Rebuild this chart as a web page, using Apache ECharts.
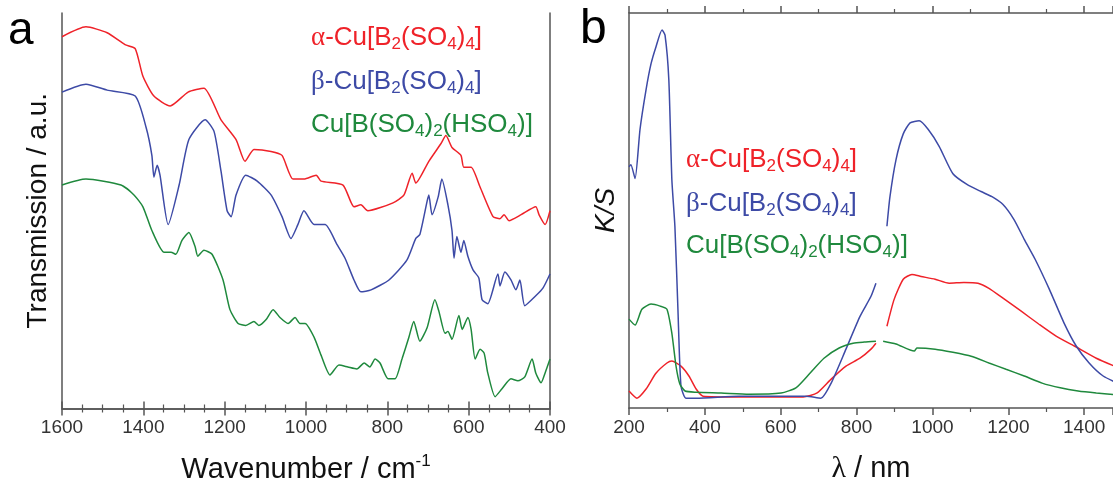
<!DOCTYPE html>
<html>
<head>
<meta charset="utf-8">
<title>IR and UV-vis spectra</title>
<script src="https://cdn.jsdelivr.net/npm/echarts@6/dist/echarts.min.js"></script>
<style>
  html, body { margin: 0; padding: 0; background: #fff; }
  #chart { width: 1113px; height: 489px; }
</style>
</head>
<body>
<div id="chart"></div>
<script>
// panel a: IR transmission (arbitrary units 0-100) vs wavenumber / cm-1
var irAlpha = [
  [1600, 94], [1541, 96.5], [1489, 95], [1445, 92], [1420, 91], [1401, 84], [1374, 79], [1334, 76.5],
  [1290, 80], [1251, 81], [1209, 73], [1172, 68], [1150, 62.5], [1128, 65.5], [1086, 65], [1059, 64],
  [1032, 58], [1005, 58], [975, 59], [963, 57.5], [909, 56.5], [882, 51], [865, 51.5], [848, 50],
  [786, 52], [759, 54], [739, 59.5], [730, 57], [698, 62.5], [668, 67], [656, 69], [641, 66],
  [619, 64], [612, 61], [594, 61], [572, 56], [540, 48.5], [523, 48], [513, 49], [501, 47.5],
  [471, 49], [435, 51], [427, 49], [412, 46.5], [400, 50]
];
var irBeta = [
  [1600, 80], [1541, 82], [1489, 80.5], [1420, 79], [1393, 71], [1379, 64], [1374, 58.5], [1366, 61.5],
  [1359, 59], [1339, 46.5], [1312, 56.5], [1288, 68], [1248, 73], [1226, 70], [1209, 60], [1194, 50],
  [1184, 48.5], [1172, 54], [1148, 59], [1120, 57.5], [1086, 54], [1059, 48.5], [1037, 43], [1020, 46.5],
  [1005, 50], [980, 46.5], [953, 46.5], [924, 41.5], [904, 38], [882, 32.5], [865, 29.5], [840, 30],
  [796, 32.5], [752, 37.5], [730, 43], [720, 44], [702, 52.5], [698, 54], [690, 49], [675, 53.5],
  [666, 58], [651, 51.5], [641, 45], [636, 38], [629, 43.5], [619, 39.5], [612, 42.5], [602, 38.5],
  [589, 35], [575, 33], [567, 27.5], [553, 26.5], [528, 34], [523, 31], [511, 34.5], [496, 32.5],
  [484, 30], [474, 32.5], [462, 26], [435, 28.5], [417, 30.5], [400, 34]
];
var irHydrogen = [
  [1600, 56.5], [1541, 58], [1455, 56.5], [1423, 54], [1401, 51], [1379, 45], [1349, 39.5], [1332, 39.5],
  [1320, 39], [1305, 42.5], [1288, 44.5], [1273, 41], [1266, 38.5], [1251, 40], [1231, 39], [1204, 32.5],
  [1187, 25], [1167, 21.5], [1148, 21], [1128, 22], [1116, 21], [1098, 22.5], [1081, 25], [1064, 23],
  [1044, 21.5], [1027, 23], [1015, 21.5], [1002, 21.5], [980, 18], [963, 13.5], [941, 8.5], [919, 11],
  [897, 10.5], [875, 10], [857, 11.5], [843, 10.5], [830, 12.5], [818, 11.5], [798, 7.5], [781, 7.5],
  [764, 12.5], [747, 18], [735, 22], [720, 17], [702, 20.5], [683, 27.5], [673, 24.5], [658, 19],
  [651, 19.5], [641, 17.5], [624, 23.5], [616, 20], [602, 23], [594, 20], [584, 12.5], [572, 15],
  [562, 14], [553, 9], [535, 3], [518, 5], [496, 7.5], [479, 7], [462, 8], [444, 12.5],
  [435, 9], [422, 6.5], [412, 9], [400, 12.5]
];

// panel b: K/S (arbitrary units 0-100) vs wavelength / nm, '-' marks a break in the trace
var uvAlpha = [
  [200, 4.3], [221, 2.5], [245, 4.8], [271, 8.8], [300, 11.4], [313, 11.9], [337, 10.6], [358, 8.1],
  [377, 4.8], [395, 3], [490, 2.8], [582, 2.8], [659, 2.8], [696, 3.8], [733, 7.3], [772, 10.6],
  [809, 12.6], [838, 14.9], [851, 16.4], [865, '-'], [880, 20.7], [899, 27.5], [923, 32.6], [946, 33.8],
  [970, 33.3], [1007, 32.6], [1044, 31.6], [1083, 31.8], [1120, 31.6], [1149, 30.3], [1186, 27.8],
  [1234, 24.5], [1281, 21.2], [1326, 18.2], [1374, 15.7], [1432, 12.6], [1492, 10.1]
];
var uvBeta = [
  [200, 61.1], [205, 61.6], [216, 58.1], [229, 70.5], [245, 80.6], [258, 87.1], [271, 91.4], [287, 95.7],
  [295, 94.4], [305, 83.1], [313, 57.8], [321, 46], [329, 25], [337, 5.6], [350, 2.5], [377, 2.5],
  [490, 3], [582, 3], [667, 3], [706, 2.5], [733, 6.3], [772, 14.9], [809, 23.2], [838, 28.3],
  [851, 31.6], [865, '-'], [880, 46], [888, 53.5], [904, 62.9], [923, 69.4], [941, 72.2], [965, 72.7],
  [989, 70.5], [1018, 66.2], [1054, 59.3], [1091, 56.6], [1128, 54.8], [1157, 53.5], [1186, 51.5],
  [1215, 47.7], [1242, 42.7], [1271, 37.6], [1308, 30.1], [1347, 21.5], [1379, 15.7], [1413, 11.4],
  [1450, 8.1], [1492, 6.1]
];
var uvHydrogen = [
  [200, 22.5], [216, 21], [234, 25], [258, 26.3], [282, 25.8], [300, 25], [313, 18.9], [324, 10.6],
  [334, 6.1], [348, 4.3], [377, 4], [443, 3.8], [516, 3.5], [601, 3.8], [640, 5.1], [677, 8.8],
  [714, 12.6], [754, 15.2], [791, 16.4], [820, 16.7], [851, 16.9], [860, '-'], [870, 16.9], [904, 16.2],
  [952, 14.4], [959, 15.2], [1007, 14.9], [1054, 14.1], [1102, 13.1], [1149, 11.4], [1194, 9.8],
  [1242, 8.1], [1289, 6.3], [1337, 5.1], [1384, 4.3], [1432, 3.8], [1492, 3.3]
];

var compoundLabels = [
  '{g|α}{n|-Cu[B}{s|2}{n|(SO}{s|4}{n|)}{s|4}{n|]}',
  '{g|β}{n|-Cu[B}{s|2}{n|(SO}{s|4}{n|)}{s|4}{n|]}',
  '{n|Cu[B(SO}{s|4}{n|)}{s|2}{n|(HSO}{s|4}{n|)]}'
];
var colors = ['#ef2229', '#3d4aa6', '#1f893d'];

var FONT = 'Liberation Sans, Arial, sans-serif';
var AXIS_COLOR = '#555';

var formulaRich = {
  n: { fontSize: 26, lineHeight: 30, fontFamily: FONT },
  g: { fontSize: 27, lineHeight: 30, fontFamily: 'Liberation Serif, serif' },
  s: { fontSize: 17, lineHeight: 17, verticalAlign: 'bottom', fontFamily: FONT }
};

function legendText(i, left, top) {
  return {
    type: 'text',
    left: left,
    top: top,
    style: { text: compoundLabels[i], rich: formulaRich, fill: colors[i] }
  };
}

// wavenumber axis runs right-to-left: plot it on negated values and print them back positive
function flip(data) {
  return data.map(function (p) { return [-p[0], p[1]]; });
}
function plainNumber(v) {
  return String(Math.abs(v));
}

function bottomAxis(grid, min, max, split, name) {
  return {
    type: 'value', gridIndex: grid, position: 'bottom',
    min: min, max: max, interval: 200,
    axisLine: { lineStyle: { color: AXIS_COLOR, width: 1.5 } },
    axisTick: { show: true, inside: false, length: 7, lineStyle: { color: AXIS_COLOR, width: 1.5 } },
    minorTick: { show: true, splitNumber: split, length: 4, lineStyle: { color: AXIS_COLOR, width: 1.2 } },
    splitLine: { show: false },
    axisLabel: {
      fontSize: 19, color: '#333', fontFamily: FONT, margin: 10,
      showMaxLabel: grid === 0, formatter: plainNumber
    },
    name: name, nameLocation: 'middle', nameGap: 44,
    nameTextStyle: {
      color: '#111',
      rich: {
        n: { fontSize: 29, lineHeight: 34, fontFamily: FONT, color: '#111' },
        g: { fontSize: 30, lineHeight: 34, fontFamily: 'Liberation Serif, serif', color: '#111' },
        sup: { fontSize: 17, lineHeight: 17, verticalAlign: 'top', fontFamily: FONT, color: '#111' }
      }
    }
  };
}

function topAxis(grid, min, max, split) {
  return {
    type: 'value', gridIndex: grid, position: 'top',
    min: min, max: max, interval: 200,
    axisLine: { lineStyle: { color: AXIS_COLOR, width: 1.5 } },
    axisTick: { show: true, inside: false, length: 7, lineStyle: { color: AXIS_COLOR, width: 1.5 } },
    minorTick: { show: true, splitNumber: split, length: 4, lineStyle: { color: AXIS_COLOR, width: 1.2 } },
    splitLine: { show: false },
    axisLabel: { show: false }
  };
}

function plainY(grid, position, name, gap, italic) {
  return {
    type: 'value', gridIndex: grid, position: position, min: 0, max: 100,
    axisLine: { show: true, lineStyle: { color: AXIS_COLOR, width: 1.5 } },
    axisTick: { show: false }, axisLabel: { show: false }, splitLine: { show: false },
    name: name, nameLocation: 'middle', nameRotate: 90, nameGap: gap,
    nameTextStyle: { fontSize: 28, fontFamily: FONT, color: '#111', fontStyle: italic ? 'italic' : 'normal' }
  };
}

function trace(name, data, xi, yi, color) {
  return {
    name: name, type: 'line', data: data, xAxisIndex: xi, yAxisIndex: yi,
    showSymbol: false, smooth: 0.2, connectNulls: false,
    lineStyle: { color: color, width: 1.5 }, itemStyle: { color: color },
    animation: false
  };
}

var chart = echarts.init(document.getElementById('chart'));

chart.setOption({
  backgroundColor: '#fff',
  animation: false,
  grid: [
    { left: 62, top: 13, width: 488, height: 399 },
    { left: 629, top: 13, right: 0, height: 399 }
  ],
  xAxis: [
    bottomAxis(0, -1600, -400, 4, '{n|Wavenumber / cm}{sup|-1}'),
    topAxis(0, -1600, -400, 4),
    bottomAxis(1, 200, 1476, 2, '{g|λ}{n| / nm}'),
    topAxis(1, 200, 1476, 2)
  ],
  yAxis: [
    plainY(0, 'left', 'Transmission / a.u.', 10, false),
    plainY(0, 'right', '', 10, false),
    plainY(1, 'left', 'K/S', 9, true)
  ],
  series: [
    trace('alpha IR', flip(irAlpha), 0, 0, colors[0]),
    trace('beta IR', flip(irBeta), 0, 0, colors[1]),
    trace('HSO4 IR', flip(irHydrogen), 0, 0, colors[2]),
    trace('alpha UV', uvAlpha, 2, 2, colors[0]),
    trace('beta UV', uvBeta, 2, 2, colors[1]),
    trace('HSO4 UV', uvHydrogen, 2, 2, colors[2])
  ],
  graphic: [
    { type: 'text', left: 8, top: 8, style: { text: 'a', font: '46px ' + FONT, fill: '#000' } },
    { type: 'text', left: 580, top: 6, style: { text: 'b', font: '48px ' + FONT, fill: '#000' } },
    legendText(0, 311, 24),
    legendText(1, 311, 68),
    legendText(2, 311, 112),
    legendText(0, 686, 146),
    legendText(1, 686, 190),
    legendText(2, 686, 233)
  ]
});
</script>
</body>
</html>
